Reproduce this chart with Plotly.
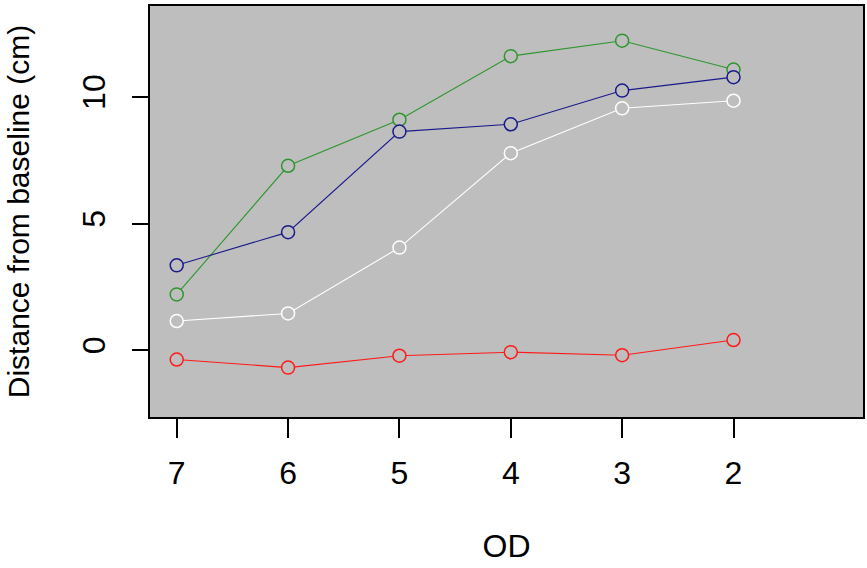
import plotly.graph_objects as go

od = [7, 6, 5, 4, 3, 2]
green_vals = [2.20, 7.28, 9.10, 11.61, 12.22, 11.08]
blue_vals = [3.35, 4.66, 8.63, 8.92, 10.25, 10.78]
white_vals = [1.15, 1.45, 4.05, 7.78, 9.55, 9.85]
red_vals = [-0.37, -0.69, -0.22, -0.08, -0.20, 0.40]

series = [
    ("green", green_vals, "#2E962E"),
    ("blue", blue_vals, "#1A1A8C"),
    ("white", white_vals, "#FFFFFF"),
    ("red", red_vals, "#FF1A1A"),
]
bg = "#BEBEBE"
x_range = [7.24, 0.837]
y_range = [-2.64, 13.59]

fig = go.Figure()
for name, vals, col in series:
    fig.add_trace(go.Scatter(x=od, y=vals, mode="lines",
                             line=dict(color=col, width=1.1),
                             hoverinfo="skip", showlegend=False))
for name, vals, col in series:
    fig.add_trace(go.Scatter(x=od, y=vals, mode="markers", name=name,
                             marker=dict(symbol="circle", size=13, color=bg,
                                         line=dict(color=col, width=1.5)),
                             showlegend=False))

font = "Liberation Sans Narrow, Liberation Sans, Arial, sans-serif"
font_reg = "Liberation Sans, Arial, sans-serif"
fig.update_layout(
    width=867, height=568,
    margin=dict(l=150, r=2, t=6, b=151),
    paper_bgcolor="white", plot_bgcolor=bg,
    font=dict(family=font, size=32, color="black"),
    xaxis=dict(range=x_range, tickvals=od, ticktext=[str(v) for v in od],
               showgrid=False, zeroline=False, showline=True, mirror=True,
               linecolor="black", linewidth=1.5, ticks="outside", ticklen=19,
               tickwidth=1.5, tickcolor="black", ticklabelstandoff=8,
               tickfont=dict(family=font, size=32),
               title=dict(text="OD", font=dict(family=font, size=32), standoff=44)),
    yaxis=dict(range=y_range, tickvals=[0, 5, 10], ticktext=["0", "5", "10"],
               showgrid=False, zeroline=False, showline=True, mirror=True,
               linecolor="black", linewidth=1.5, ticks="outside", ticklen=16,
               tickwidth=1.5, tickcolor="black", tickangle=-90, ticklabelstandoff=14,
               tickfont=dict(family=font, size=32),
               title=dict(text="Distance from baseline (cm)", font=dict(family=font_reg, size=30),
                          standoff=38)),
)

fig.write_html("out.html")
